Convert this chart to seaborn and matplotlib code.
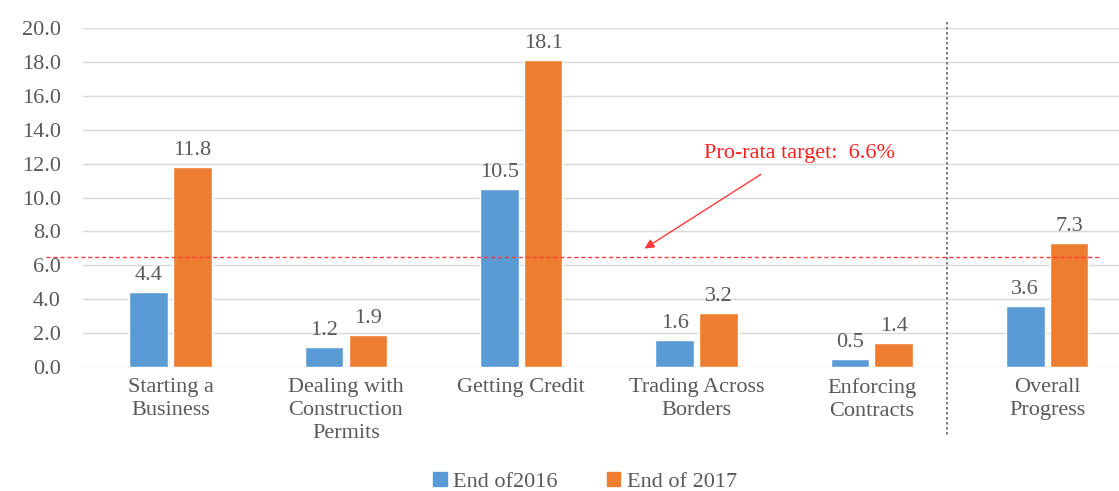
import pandas as pd
import seaborn as sns
import matplotlib.pyplot as plt
from matplotlib.patches import Patch

categories = ["Starting a\nBusiness", "Dealing with\nConstruction\nPermits", "Getting Credit",
              "Trading Across\nBorders", "Enforcing\nContracts", "Overall\nProgress"]
end_2016 = [4.4, 1.2, 10.5, 1.6, 0.5, 3.6]
end_2017 = [11.8, 1.9, 18.1, 3.2, 1.4, 7.3]
series_names = ["End of2016", "End of 2017"]
target_line = 6.5
target_label = "Pro-rata target:  6.6%"
yticks = [0, 2, 4, 6, 8, 10, 12, 14, 16, 18, 20]

df = pd.DataFrame({
    "category": categories * 2,
    "series": [series_names[0]] * 6 + [series_names[1]] * 6,
    "value": end_2016 + end_2017,
})

sns.set_theme(style="white")
plt.rcParams["font.family"] = ["Liberation Serif", "DejaVu Serif"]

blue, orange = "#5B9BD5", "#ED7D31"
txt = "#595959"
fs = 16

fig = plt.figure(figsize=(11.19, 4.91), dpi=100)
ax = fig.add_axes([0.0742, 0.2525, 0.9258, 0.6905])

sns.barplot(data=df, x="category", y="value", hue="series", order=categories,
            hue_order=series_names, palette=[blue, orange], width=0.5, gap=0.12,
            saturation=1, legend=False, ax=ax)

for c in ax.containers:
    ax.bar_label(c, fmt="%.1f", padding=5, fontsize=fs, color=txt)

ax.set_ylim(0, 20)
ax.set_xlim(-0.5, 5.41)
ax.set_yticks(yticks)
ax.set_yticklabels([f"{v:.1f}" for v in yticks])
ax.yaxis.grid(True, color="#d9d9d9", linewidth=1)
ax.set_axisbelow(True)
for s in ax.spines.values():
    s.set_visible(False)
ax.tick_params(axis="y", length=0, pad=16, labelsize=fs, labelcolor=txt)
ax.tick_params(axis="x", length=0, pad=8, labelsize=fs, labelcolor=txt)
for lab in ax.get_xticklabels():
    lab.set_verticalalignment("top")
    lab.set_linespacing(1.28)
ax.set_xlabel("")
ax.set_ylabel("")

# target line, separator, annotation
ax.plot([-0.71, 5.31], [target_line, target_line], color="#ff3b3b", linestyle=(0, (3, 2)),
        linewidth=1, clip_on=False)
ax.plot([4.43, 4.43], [20.35, -4.0], color="#666666", linestyle=(0, (1.5, 1.5)),
        linewidth=1.2, clip_on=False)
ax.annotate("", xy=(2.69, 6.9), xytext=(3.38, 11.45),
            arrowprops=dict(arrowstyle="-|>", color="#ff3b3b", lw=1, mutation_scale=14))
ax.text(3.59, 12.6, target_label, color="#ff2020", fontsize=fs, ha="center", va="center")

handles = [Patch(color=blue), Patch(color=orange)]
fig.legend(handles, series_names, loc="center", bbox_to_anchor=(0.523, 0.018), ncol=2,
           frameon=False, fontsize=fs, labelcolor=txt, handlelength=0.6, handleheight=0.6,
           handletextpad=0.3, columnspacing=2.2)

fig.savefig("out.png", dpi=100)
